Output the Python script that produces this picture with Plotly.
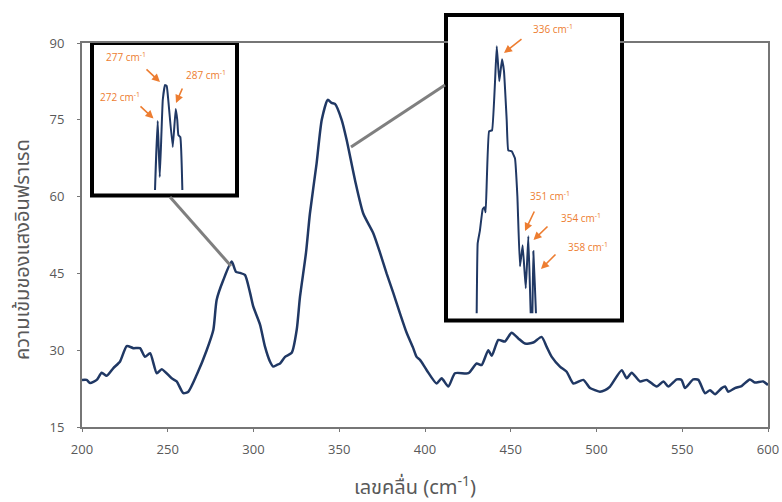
import plotly.graph_objects as go

# ---------------- data ----------------
wavenumber = [200, 202.7, 204.7, 208.6, 211.5, 214.4, 218.3, 222.2, 226.1, 230, 233.8, 236.7,
              239.7, 243.6, 246.5, 252.3, 255.2, 259.1, 262, 266.9, 272.7, 276.6, 278.5, 282.4,
              287.3, 289.8, 292.1, 295, 298, 299.9, 303.8, 306.7, 309.6, 311.5, 313.5, 315.5,
              318.4, 322.3, 325.2, 327.1, 330.6, 332.9, 336.8, 339.8, 343.3, 345.5, 347.5, 351.4,
              354.3, 359.2, 364, 369.9, 373.8, 377.6, 381.5, 385.4, 389.3, 393, 395.1, 397.1,
              401, 406.8, 409.7, 413.6, 417.5, 425.3, 430.1, 433, 436.9, 438.9, 442.8, 446.6,
              450.5, 454.4, 458.3, 463.1, 468, 470.9, 473.9, 478.7, 482.6, 486.5, 492.3, 496.2,
              499.1, 502, 505, 507.9, 514.7, 517.6, 520.5, 525.4, 529.3, 535.1, 539, 541.9,
              546.8, 549.6, 551.6, 556.4, 559.4, 563.3, 566.2, 569.1, 573, 575, 576.8, 580.7,
              584.6, 589.4, 592.3, 597.2, 600]
intensity = [24.2, 24.2, 23.6, 24.2, 25.6, 25.0, 26.5, 27.8, 30.8, 30.4, 30.4, 28.7,
             29.4, 25.5, 26.3, 24.5, 23.9, 21.6, 21.9, 25.2, 30.0, 34.0, 39.8, 43.7,
             47.3, 45.3, 45.1, 44.7, 41.2, 38.5, 35.0, 30.7, 27.8, 26.8, 27.1, 27.4,
             28.7, 29.5, 34.0, 40.4, 49.0, 56.7, 66.5, 75.0, 78.9, 78.3, 78.1, 75.0,
             71.1, 63.2, 56.7, 52.8, 49.0, 45.0, 41.2, 37.2, 33.4, 30.5, 28.7, 28.1,
             26.1, 23.5, 24.5, 22.9, 25.5, 25.5, 27.4, 27.1, 30.0, 28.9, 32.0, 31.7,
             33.4, 32.3, 31.3, 31.5, 32.6, 30.7, 28.7, 26.8, 25.8, 23.5, 24.2, 22.6,
             22.2, 21.9, 22.2, 22.9, 26.1, 24.5, 25.6, 23.9, 24.2, 22.9, 23.9, 22.9,
             24.3, 24.2, 22.6, 24.3, 24.2, 21.6, 22.2, 21.4, 22.6, 22.9, 21.9, 22.6,
             23.0, 24.3, 23.7, 23.9, 23.2]

x_ticks = [200, 250, 300, 350, 400, 450, 500, 550, 600]
y_ticks = [15, 30, 45, 60, 75, 90]

# inset 1 (zoom around 270-293 cm-1), arbitrary intensity units
inset1_x = [269.6, 269.75, 272.0, 273.7, 276.2, 278.1, 279.5, 280.8, 284.5, 287.0, 288.3, 289.2, 290.8, 292.5, 292.6]
inset1_y = [-10, 0, 69, 13, 90, 105, 104, 90, 43, 81, 70, 55, 53, 2, -10]
inset1_labels = ["272 cm<sup>-1</sup>", "277 cm<sup>-1</sup>", "287 cm<sup>-1</sup>"]

# inset 2 (zoom around 318-360 cm-1), arbitrary intensity units
inset2_x = [318.1, 318.2, 318.9, 320.5, 322.4, 323.6, 324.5, 326.9, 329.0, 332.3, 334.1, 336.0,
            337.4, 339.3, 340.4, 342.8, 345.1, 346.8, 348.6, 350.5, 352.7, 354.5, 356.2, 357.1,
            358.0, 359.9, 360.3]
inset2_y = [-30, 0, 70, 83, 104, 106, 101, 182, 183, 267, 232, 254,
            242, 193, 163, 162, 155, 117, 47, 68, 25, 77, -2, -25,
            62, -2, -30]
inset2_labels = ["336 cm<sup>-1</sup>", "351 cm<sup>-1</sup>", "354 cm<sup>-1</sup>", "358 cm<sup>-1</sup>"]

# ---------------- layout helpers (pixel -> paper) ----------------
W, H = 782, 502
PL, PR, PT, PB = 82, 768, 10, 427   # paper box in pixels
ML, MT = PL, PT
MR = W - PR
MB = H - PB
PW, PH = PR - PL, PB - PT


def px(x):
    return (x - PL) / PW


def py(y):
    return (PB - y) / PH


LINE = "#203864"
ORANGE = "#ED7D31"
AXIS = "#767676"
TXT = "#595959"

fig = go.Figure()
fig.add_trace(go.Scatter(x=wavenumber, y=intensity, mode="lines",
                         line=dict(color=LINE, width=2.5, shape="spline", smoothing=0.6),
                         xaxis="x", yaxis="y", showlegend=False, hoverinfo="skip"))
fig.add_trace(go.Scatter(x=inset1_x, y=inset1_y, mode="lines",
                         line=dict(color=LINE, width=2, shape="spline", smoothing=0.3),
                         xaxis="x2", yaxis="y2", showlegend=False, hoverinfo="skip"))
fig.add_trace(go.Scatter(x=inset2_x, y=inset2_y, mode="lines",
                         line=dict(color=LINE, width=2, shape="spline", smoothing=0.3),
                         xaxis="x3", yaxis="y3", showlegend=False, hoverinfo="skip"))

shapes = [
    dict(type="rect", xref="paper", yref="paper", x0=px(92), x1=px(237), y0=py(195.5), y1=py(43.5),
         line=dict(color="black", width=4), fillcolor="white", layer="below"),
    dict(type="rect", xref="paper", yref="paper", x0=px(446), x1=px(622), y0=py(320.5), y1=py(15),
         line=dict(color="black", width=4), fillcolor="white", layer="below"),
    dict(type="line", xref="paper", yref="paper", x0=px(170), y0=py(197), x1=px(231), y1=py(266),
         line=dict(color="#7F7F7F", width=3)),
    dict(type="line", xref="paper", yref="paper", x0=px(351), y0=py(147), x1=px(445), y1=py(85),
         line=dict(color="#7F7F7F", width=3)),
]

annotations = []
label_specs = [
    (inset1_labels[0], 120, 97, (139, 105), (153.5, 118.5)),
    (inset1_labels[1], 126, 57, (145, 68), (160, 82)),
    (inset1_labels[2], 206, 75, (183, 87), (176, 103)),
    (inset2_labels[0], 553, 29, (523, 38), (504, 53)),
    (inset2_labels[1], 550, 196, (535, 210), (525, 231)),
    (inset2_labels[2], 581, 218, (549, 225), (533.5, 240)),
    (inset2_labels[3], 588, 247, (557, 253), (541, 269)),
]
for text, tx, ty, tail, head in label_specs:
    annotations.append(dict(text=text, xref="paper", yref="paper", x=px(tx), y=py(ty),
                            showarrow=False, xanchor="center", yanchor="middle",
                            font=dict(family="Open Sans, sans-serif", size=10, color=ORANGE)))
    annotations.append(dict(text="", xref="paper", yref="paper", x=px(head[0]), y=py(head[1]),
                            ax=tail[0] - head[0], ay=tail[1] - head[1], showarrow=True,
                            arrowhead=2, arrowsize=1, arrowwidth=1.6, arrowcolor=ORANGE))

annotations.append(dict(text="ความเข้มของแสงอินฟราเรด", xref="paper", yref="paper",
                        x=px(23), y=py(250), textangle=-90, showarrow=False,
                        xanchor="center", yanchor="middle",
                        font=dict(family="Noto Sans Thai, Noto Sans, sans-serif", size=20, color=TXT)))
annotations.append(dict(text="เลขคลื่น (cm<sup>-1</sup>)", xref="paper", yref="paper",
                        x=px(415), y=py(487), showarrow=False,
                        xanchor="center", yanchor="middle",
                        font=dict(family="Noto Sans Thai, Noto Sans, sans-serif", size=20, color=TXT)))

axis_font = dict(family="Open Sans, sans-serif", size=13, color=TXT)

fig.update_layout(
    width=W, height=H,
    margin=dict(l=ML, r=MR, t=MT, b=MB, autoexpand=False),
    paper_bgcolor="white", plot_bgcolor="white",
    shapes=shapes, annotations=annotations,
    xaxis=dict(domain=[0, 1], range=[200, 600], tickvals=x_ticks, showgrid=False, zeroline=False,
               showline=True, mirror=True, linecolor=AXIS, linewidth=2,
               ticks="outside", ticklen=3, tickcolor=AXIS, tickfont=axis_font,
               ticklabelstandoff=6, anchor="y", automargin=False),
    yaxis=dict(domain=[0, py(43)], range=[15, 90], tickvals=y_ticks, showgrid=False, zeroline=False,
               showline=True, mirror=True, linecolor=AXIS, linewidth=2,
               ticks="outside", ticklen=3, tickcolor=AXIS, tickfont=axis_font,
               ticklabelstandoff=10, anchor="x", automargin=False),
    xaxis2=dict(domain=[px(94), px(235)], range=[218.9, 336.4], visible=False, anchor="y2"),
    yaxis2=dict(domain=[py(190), py(45)], range=[0, 145], visible=False, anchor="x2"),
    xaxis3=dict(domain=[px(448), px(620)], range=[298.05, 418.9], visible=False, anchor="y3"),
    yaxis3=dict(domain=[py(313.3), py(17)], range=[0, 296.3], visible=False, anchor="x3"),
)

fig.write_html("out.html", config={"displayModeBar": False},
               post_script="document.body.style.margin='0';document.body.style.overflow='hidden';")
